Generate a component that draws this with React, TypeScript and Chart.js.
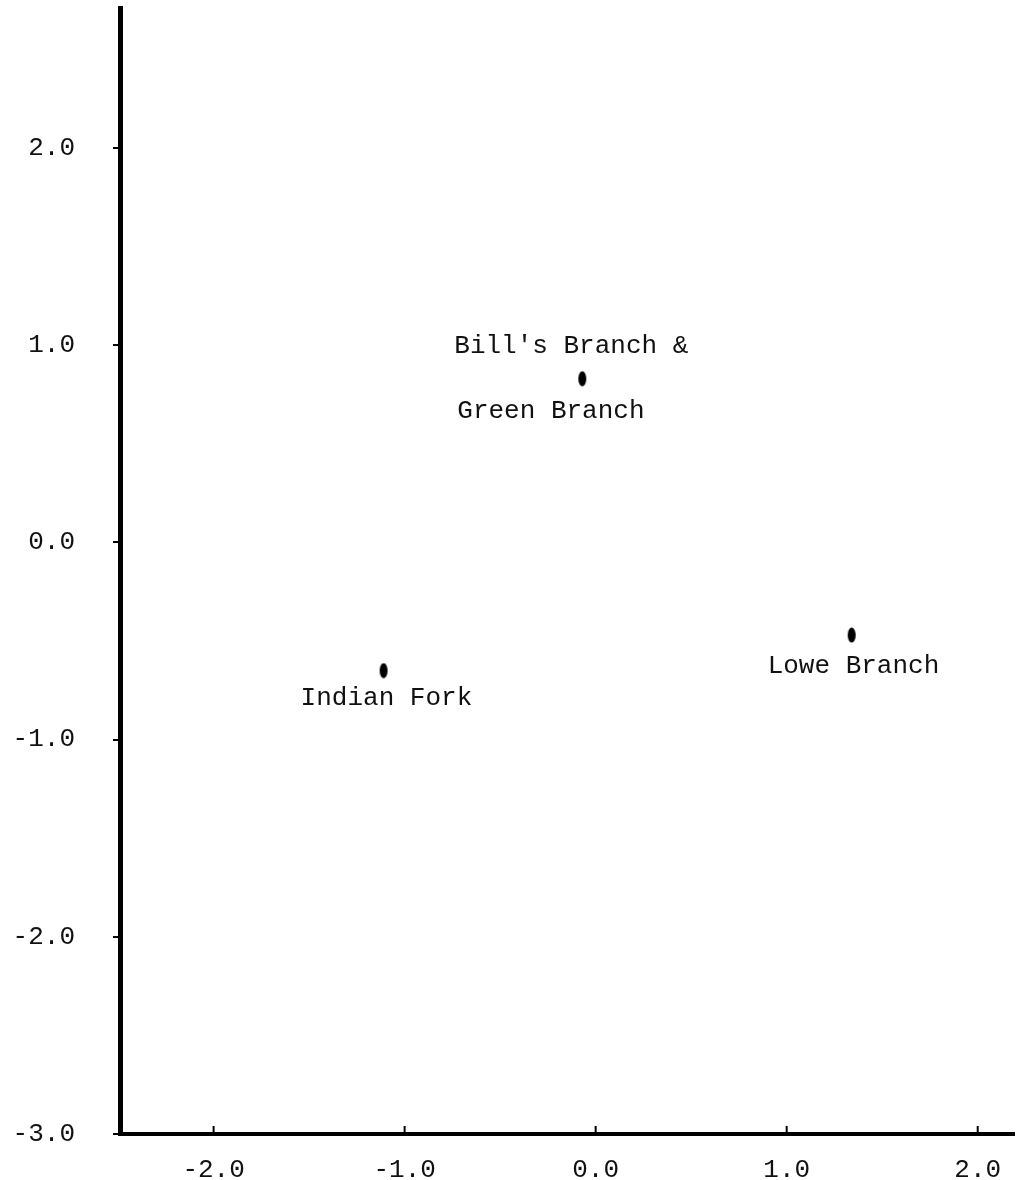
import React, { useEffect, useRef } from "react";
import { Chart, registerables } from "chart.js";

Chart.register(...registerables);

// ---- data ----
const siteNames = ["Bill's Branch & Green Branch", "Indian Fork", "Lowe Branch"];
const xValues = [-0.07, -1.11, 1.34];
const yValues = [0.83, -0.65, -0.47];
const xTicks = [-2, -1, 0, 1, 2];
const yTicks = [-3, -2, -1, 0, 1, 2];
const xRange = [-2.49, 2.19];
const yRange = [-3.0, 2.71];

// label text lines per site (drawn near the point)
const labelLines = [["Bill's Branch &", "Green Branch"], ["Indian Fork"], ["Lowe Branch"]];

const FONT = "'Liberation Mono', 'DejaVu Sans Mono', monospace";

export default function App() {
  const ref = useRef<HTMLCanvasElement | null>(null);

  useEffect(() => {
    if (!ref.current) return;

    // ellipse marker
    const marker = document.createElement("canvas");
    marker.width = 10;
    marker.height = 16;
    const mctx = marker.getContext("2d")!;
    mctx.fillStyle = "#000";
    mctx.beginPath();
    mctx.ellipse(5, 8, 4, 7.5, 0, 0, Math.PI * 2);
    mctx.fill();

    // layout offsets for labels (pixels, relative to the point)
    const labelOffsets = [
      [{ dx: -128, dy: -33 }, { dx: -125, dy: 32 }],
      [{ dx: -83, dy: 28 }],
      [{ dx: -84, dy: 31 }],
    ];

    const labelPlugin = {
      id: "siteLabels",
      afterDatasetsDraw(chart: any) {
        const ctx = chart.ctx;
        const xs = chart.scales.x;
        const ys = chart.scales.y;
        ctx.save();
        ctx.font = `26px ${FONT}`;
        ctx.fillStyle = "#111";
        ctx.textAlign = "left";
        ctx.textBaseline = "middle";
        labelLines.forEach((lines, i) => {
          const px = xs.getPixelForValue(xValues[i]);
          const py = ys.getPixelForValue(yValues[i]);
          lines.forEach((t, j) => {
            const o = labelOffsets[i][j];
            ctx.fillText(t, px + o.dx, py + o.dy);
          });
        });
        // upward tick marks on x axis
        ctx.strokeStyle = "#000";
        ctx.lineWidth = 2;
        const base = chart.chartArea.bottom;
        xTicks.forEach((v) => {
          const x = xs.getPixelForValue(v);
          ctx.beginPath();
          ctx.moveTo(x, base);
          ctx.lineTo(x, base - 8);
          ctx.stroke();
        });
        ctx.restore();
      },
    };

    const chart = new Chart(ref.current, {
      type: "scatter",
      data: {
        datasets: [
          {
            label: "Sites",
            data: xValues.map((x, i) => ({ x, y: yValues[i], name: siteNames[i] })),
            pointStyle: marker as any,
            pointRadius: 6,
            clip: false as any,
          },
        ],
      },
      options: {
        animation: false,
        responsive: true,
        maintainAspectRatio: false,
        devicePixelRatio: 1,
        layout: { padding: { top: 8, right: 0, left: 0, bottom: 0 } },
        plugins: {
          legend: { display: false },
          tooltip: { enabled: false },
        },
        scales: {
          x: {
            type: "linear",
            min: xRange[0],
            max: xRange[1],
            afterBuildTicks: (s: any) => {
              s.ticks = xTicks.map((v) => ({ value: v }));
            },
            afterFit: (s: any) => {
              s.height = 46;
              s.paddingLeft = 0;
              s.paddingRight = 0;
              s.paddingTop = 0;
              s.paddingBottom = 0;
            },
            grid: { display: true, drawOnChartArea: false, drawTicks: false, color: "#000" },
            border: { display: true, color: "#000", width: 4 },
            ticks: {
              padding: 21,
              color: "#111",
              font: { family: FONT, size: 26 },
              maxRotation: 0,
              autoSkip: false,
              callback: (v: any) => Number(v).toFixed(1),
            },
          },
          y: {
            type: "linear",
            min: yRange[0],
            max: yRange[1],
            afterBuildTicks: (s: any) => {
              s.ticks = yTicks.map((v) => ({ value: v }));
            },
            afterFit: (s: any) => {
              s.width = 120;
              s.paddingLeft = 0;
              s.paddingRight = 0;
              s.paddingTop = 0;
              s.paddingBottom = 0;
            },
            grid: {
              display: true,
              drawOnChartArea: false,
              drawTicks: true,
              tickLength: 7,
              color: "#000",
              lineWidth: 2,
            },
            border: { display: true, color: "#000", width: 5 },
            ticks: {
              padding: 38,
              color: "#111",
              font: { family: FONT, size: 26 },
              autoSkip: false,
              callback: (v: any) => Number(v).toFixed(1),
            },
          },
        },
      },
      plugins: [labelPlugin],
    });

    return () => chart.destroy();
  }, []);

  return (
    <div
      style={{
        position: "absolute",
        left: 0,
        top: 0,
        width: 1021,
        height: 1180,
        background: "#fff",
      }}
    >
      <canvas ref={ref} />
    </div>
  );
}
